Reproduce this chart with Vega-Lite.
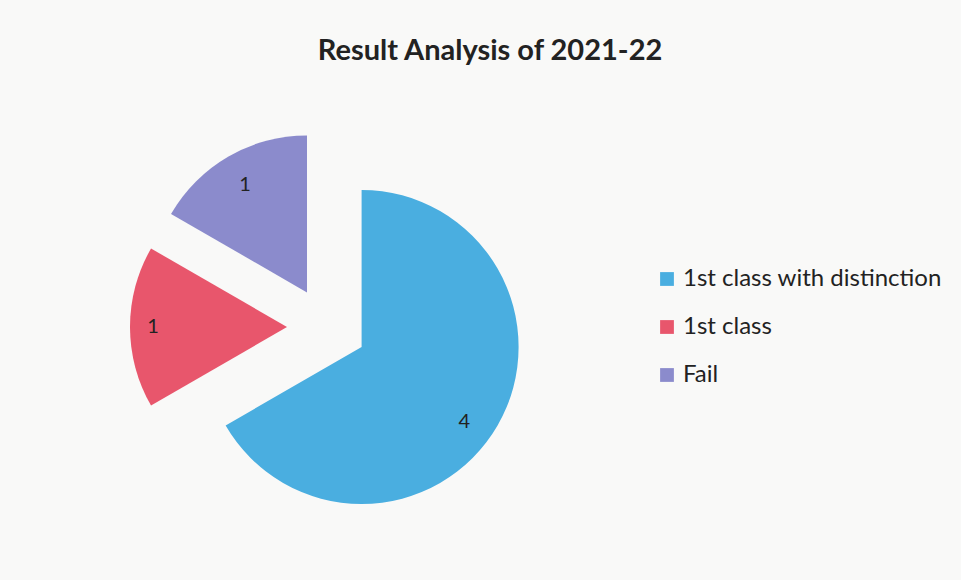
{
  "$schema": "https://vega.github.io/schema/vega-lite/v6.json",
  "autosize": {"type": "none"},
  "width": 500,
  "height": 500,
  "padding": {"left": 77, "top": 77, "right": 384, "bottom": 3},
  "background": "#f9f9f8",
  "title": {
    "text": "Result Analysis of 2021-22",
    "font": "Lato",
    "fontSize": 29,
    "fontWeight": "bold",
    "color": "#222222",
    "anchor": "middle",
    "dx": 163,
    "offset": 11
  },
  "data": {
    "values": [
      {"category": "1st class with distinction", "count": 4},
      {"category": "1st class", "count": 1},
      {"category": "Fail", "count": 1}
    ]
  },
  "transform": [
    {
      "stack": "count",
      "groupby": [],
      "as": ["t0", "t1"],
      "sort": [
        {"field": "count", "order": "descending"},
        {"field": "category", "order": "ascending"}
      ]
    }
  ],
  "config": {
    "view": {"stroke": null},
    "font": "Lato"
  },
  "layer": [
    {
      "transform": [{"filter": "datum.category === '1st class with distinction'"}],
      "layer": [
        {
          "mark": {"type": "arc", "outerRadius": 157, "xOffset": 34.6, "yOffset": 20},
          "encoding": {
            "theta": {"field": "t0", "type": "quantitative", "stack": null, "scale": {"domain": [0, 6]}},
            "theta2": {"field": "t1"},
            "color": {
              "field": "category",
              "type": "nominal",
              "scale": {
                "domain": ["1st class with distinction", "1st class", "Fail"],
                "range": ["#4aaee0", "#e8566c", "#8b8bcc"]
              },
              "legend": {
                "title": null,
                "orient": "none",
                "legendX": 578,
                "legendY": 190,
                "symbolType": "square",
                "symbolSize": 190,
                "symbolStrokeWidth": 0,
                "labelFont": "Lato",
                "labelFontSize": 24,
                "labelColor": "#222222",
                "labelOffset": 4,
                "labelLimit": 0,
                "rowPadding": 24
              }
            }
          }
        },
        {
          "mark": {"type": "text", "radius": 127, "thetaOffset": 2.2, "xOffset": 34.6, "yOffset": 20, "font": "Lato", "fontSize": 20, "color": "#222222"},
          "encoding": {
            "theta": {"field": "t0", "type": "quantitative", "stack": null},
            "text": {"field": "count", "type": "quantitative"}
          }
        }
      ]
    },
    {
      "transform": [{"filter": "datum.category === '1st class'"}],
      "layer": [
        {
          "mark": {"type": "arc", "outerRadius": 157, "xOffset": -40, "yOffset": 0},
          "encoding": {
            "theta": {"field": "t0", "type": "quantitative", "stack": null},
            "theta2": {"field": "t1"},
            "color": {"field": "category", "type": "nominal"}
          }
        },
        {
          "mark": {"type": "text", "radius": 134, "thetaOffset": 0.5236, "xOffset": -40, "yOffset": 0, "font": "Lato", "fontSize": 20, "color": "#222222"},
          "encoding": {
            "theta": {"field": "t0", "type": "quantitative", "stack": null},
            "text": {"field": "count", "type": "quantitative"}
          }
        }
      ]
    },
    {
      "transform": [{"filter": "datum.category === 'Fail'"}],
      "layer": [
        {
          "mark": {"type": "arc", "outerRadius": 157, "xOffset": -20, "yOffset": -34.6},
          "encoding": {
            "theta": {"field": "t0", "type": "quantitative", "stack": null},
            "theta2": {"field": "t1"},
            "color": {"field": "category", "type": "nominal"}
          }
        },
        {
          "mark": {"type": "text", "radius": 124, "thetaOffset": 0.5236, "xOffset": -20, "yOffset": -34.6, "font": "Lato", "fontSize": 20, "color": "#222222"},
          "encoding": {
            "theta": {"field": "t0", "type": "quantitative", "stack": null},
            "text": {"field": "count", "type": "quantitative"}
          }
        }
      ]
    }
  ]
}
